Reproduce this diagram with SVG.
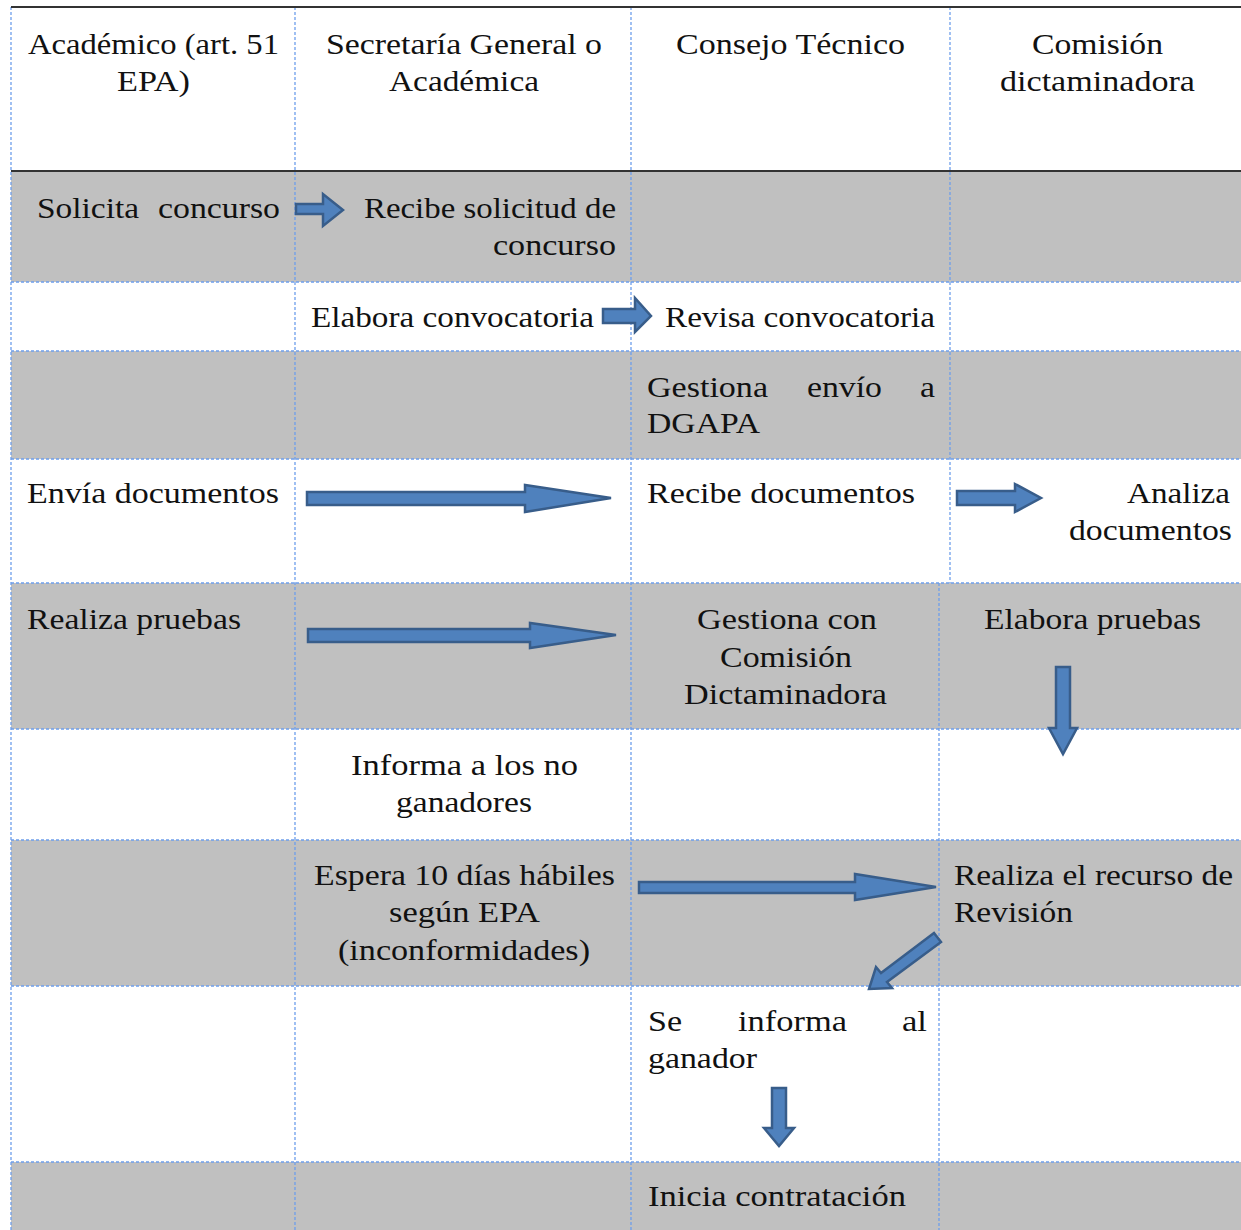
<svg xmlns="http://www.w3.org/2000/svg" width="1241" height="1230" viewBox="0 0 1241 1230">
<style>
.bg{fill:#c0c0c0}
.g{stroke:#6d9eeb;stroke-width:1.3;stroke-dasharray:3 2;fill:none}
.s{stroke:#333;stroke-width:2;fill:none}
text{font-family:'Liberation Serif','Times New Roman',serif;font-size:30px;fill:#111}
.a{fill:#4f81bd;stroke:#385d8a;stroke-width:2.5;stroke-linejoin:miter}
</style>
<rect width="1241" height="1230" fill="#fff"/>
<g id="bands">
<rect class="bg" x="11" y="171" width="1230" height="111"/>
<rect class="bg" x="11" y="351" width="1230" height="108"/>
<rect class="bg" x="11" y="583" width="1230" height="146"/>
<rect class="bg" x="11" y="840" width="1230" height="146"/>
<rect class="bg" x="11" y="1162" width="1230" height="68"/>
</g>
<g id="grid">
<line class="g" x1="11" y1="7" x2="11" y2="1230"/>
<line class="g" x1="295" y1="7" x2="295" y2="1230"/>
<line class="g" x1="631" y1="7" x2="631" y2="1230"/>
<line class="g" x1="950" y1="7" x2="950" y2="583"/>
<line class="g" x1="939" y1="583" x2="939" y2="1230"/>
<line class="g" x1="11" y1="282" x2="1241" y2="282"/>
<line class="g" x1="11" y1="351" x2="1241" y2="351"/>
<line class="g" x1="11" y1="459" x2="1241" y2="459"/>
<line class="g" x1="11" y1="583" x2="1241" y2="583"/>
<line class="g" x1="11" y1="729" x2="1241" y2="729"/>
<line class="g" x1="11" y1="840" x2="1241" y2="840"/>
<line class="g" x1="11" y1="986" x2="1241" y2="986"/>
<line class="g" x1="11" y1="1162" x2="1241" y2="1162"/>
<line class="s" x1="11" y1="7" x2="1241" y2="7"/>
<line class="s" x1="11" y1="171" x2="1241" y2="171"/>
</g>
<g id="header">
<text x="28" y="54" textLength="251" lengthAdjust="spacingAndGlyphs">Académico (art. 51</text>
<text x="117" y="91" textLength="73" lengthAdjust="spacingAndGlyphs">EPA)</text>
<text x="326" y="54" textLength="276" lengthAdjust="spacingAndGlyphs">Secretaría General o</text>
<text x="389" y="91" textLength="150" lengthAdjust="spacingAndGlyphs">Académica</text>
<text x="676" y="54" textLength="229" lengthAdjust="spacingAndGlyphs">Consejo Técnico</text>
<text x="1032" y="54" textLength="131" lengthAdjust="spacingAndGlyphs">Comisión</text>
<text x="1000" y="91" textLength="195" lengthAdjust="spacingAndGlyphs">dictaminadora</text>
</g>
<g id="n-solicita"><text x="37" y="218" textLength="102" lengthAdjust="spacingAndGlyphs">Solicita</text><text x="158" y="218" textLength="122" lengthAdjust="spacingAndGlyphs">concurso</text></g>
<g id="n-recibe-solicitud"><text x="364" y="218" textLength="252" lengthAdjust="spacingAndGlyphs">Recibe solicitud de</text><text x="493" y="255" textLength="123" lengthAdjust="spacingAndGlyphs">concurso</text></g>
<g id="n-elabora-conv"><text x="311" y="327" textLength="283" lengthAdjust="spacingAndGlyphs">Elabora convocatoria</text></g>
<g id="n-revisa-conv"><text x="665" y="327" textLength="270" lengthAdjust="spacingAndGlyphs">Revisa convocatoria</text></g>
<g id="n-gestiona-dgapa"><text x="647" y="397" textLength="121" lengthAdjust="spacingAndGlyphs">Gestiona</text><text x="807" y="397" textLength="75" lengthAdjust="spacingAndGlyphs">envío</text><text x="920" y="397" textLength="15" lengthAdjust="spacingAndGlyphs">a</text><text x="647" y="433" textLength="113" lengthAdjust="spacingAndGlyphs">DGAPA</text></g>
<g id="n-envia"><text x="27" y="503" textLength="252" lengthAdjust="spacingAndGlyphs">Envía documentos</text></g>
<g id="n-recibe-doc"><text x="647" y="503" textLength="268" lengthAdjust="spacingAndGlyphs">Recibe documentos</text></g>
<g id="n-analiza"><text x="1127" y="503" textLength="103" lengthAdjust="spacingAndGlyphs">Analiza</text><text x="1069" y="540" textLength="163" lengthAdjust="spacingAndGlyphs">documentos</text></g>
<g id="n-realiza-pruebas"><text x="27" y="629" textLength="214" lengthAdjust="spacingAndGlyphs">Realiza pruebas</text></g>
<g id="n-gestiona-comision"><text x="697" y="629" textLength="180" lengthAdjust="spacingAndGlyphs">Gestiona con</text><text x="720" y="667" textLength="132" lengthAdjust="spacingAndGlyphs">Comisión</text><text x="684" y="704" textLength="203" lengthAdjust="spacingAndGlyphs">Dictaminadora</text></g>
<g id="n-elabora-pruebas"><text x="984" y="629" textLength="217" lengthAdjust="spacingAndGlyphs">Elabora pruebas</text></g>
<g id="n-informa-no"><text x="351" y="775" textLength="227" lengthAdjust="spacingAndGlyphs">Informa a los no</text><text x="396" y="812" textLength="136" lengthAdjust="spacingAndGlyphs">ganadores</text></g>
<g id="n-espera"><text x="314" y="885" textLength="301" lengthAdjust="spacingAndGlyphs">Espera 10 días hábiles</text><text x="389" y="922" textLength="151" lengthAdjust="spacingAndGlyphs">según EPA</text><text x="338" y="960" textLength="252" lengthAdjust="spacingAndGlyphs">(inconformidades)</text></g>
<g id="n-recurso"><text x="954" y="885" textLength="279" lengthAdjust="spacingAndGlyphs">Realiza el recurso de</text><text x="954" y="922" textLength="119" lengthAdjust="spacingAndGlyphs">Revisión</text></g>
<g id="n-informa-ganador"><text x="648" y="1031" textLength="34" lengthAdjust="spacingAndGlyphs">Se</text><text x="738" y="1031" textLength="109" lengthAdjust="spacingAndGlyphs">informa</text><text x="902" y="1031" textLength="25" lengthAdjust="spacingAndGlyphs">al</text><text x="648" y="1068" textLength="109" lengthAdjust="spacingAndGlyphs">ganador</text></g>
<g id="n-inicia"><text x="648" y="1206" textLength="258" lengthAdjust="spacingAndGlyphs">Inicia contratación</text></g>
<g id="connectors">
<polygon class="a" points="296,204 323,204 323,194 343,210 323,226 323,214 296,214"/>
<polygon class="a" points="603,309 635,309 635,298 651,316 635,332 635,323 603,323"/>
<polygon class="a" points="307,492 525,492 525,485 611,498 525,512 525,505 307,505"/>
<polygon class="a" points="957,491 1015,491 1015,484 1041,498 1015,512 1015,505 957,505"/>
<polygon class="a" points="308,629 530,629 530,623 616,635 530,648 530,642 308,642"/>
<polygon class="a" points="1056,667 1070,667 1070,728 1077,728 1063,754 1049,728 1056,728"/>
<polygon class="a" points="639,882 855,882 855,874 936,887 855,900 855,893 639,893"/>
<polygon class="a" points="934,933 941,942 887,982 892,988 869,989 876,967 881,973"/>
<polygon class="a" points="772,1088 786,1088 786,1128 794,1128 779,1146 764,1128 772,1128"/>
</g>
</svg>
